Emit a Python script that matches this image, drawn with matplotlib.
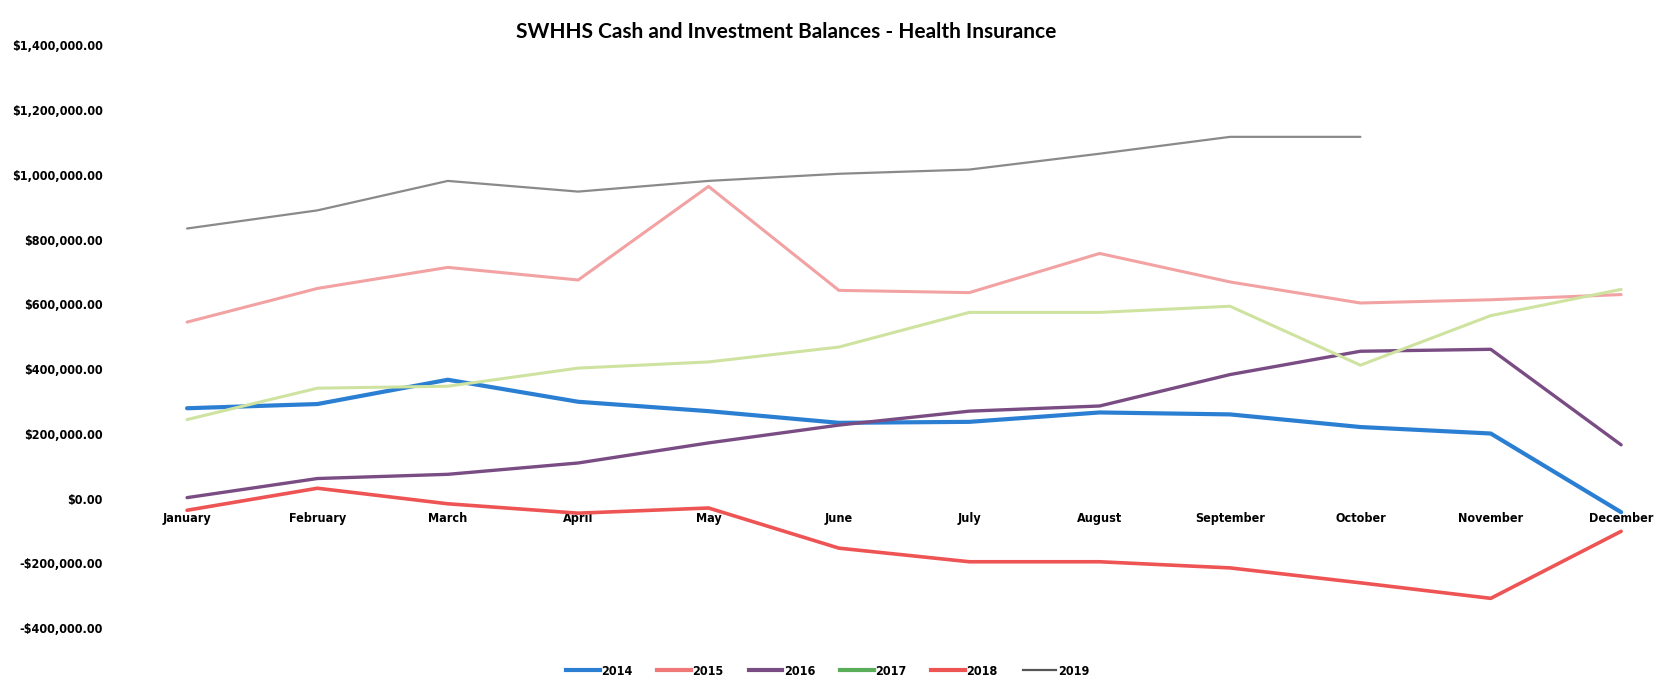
import matplotlib
matplotlib.use("Agg")
import matplotlib.pyplot as plt
from matplotlib.lines import Line2D
from matplotlib.ticker import FuncFormatter
from matplotlib import font_manager

months = ["January", "February", "March", "April", "May", "June", "July",
          "August", "September", "October", "November", "December"]

y2014 = [279000, 292000, 367000, 299000, 270000, 234000, 237000, 266000, 260000, 221000, 201000, -42000]
y2015 = [545000, 649000, 714000, 675000, 964000, 643000, 636000, 757000, 669000, 604000, 614000, 630000]
y2016 = [3000, 62000, 75000, 110000, 172000, 227000, 270000, 286000, 383000, 455000, 461000, 166000]
y2017 = [244000, 341000, 347000, 403000, 422000, 468000, 575000, 575000, 594000, 412000, 565000, 646000]
y2018 = [-36000, 32000, -16000, -45000, -29000, -153000, -195000, -195000, -214000, -260000, -308000, -101000]
y2019 = [834000, 890000, 981000, 948000, 981000, 1003000, 1016000, 1065000, 1117000, 1117000]

series_names = ["2014", "2015", "2016", "2017", "2018", "2019"]

installed = {f.name for f in font_manager.fontManager.ttflist}
narrow = 'Liberation Sans Narrow' if 'Liberation Sans Narrow' in installed else 'DejaVu Sans'
plt.rcParams['font.family'] = [narrow, 'DejaVu Sans']
tick_fp = font_manager.FontProperties(family=[narrow, 'DejaVu Sans'], weight='bold',
                                      stretch='condensed', size=9)

fig = plt.figure(figsize=(16.65, 6.85), dpi=100)
ax = fig.add_axes([0.110, 0.083, 0.866, 0.851])

x = list(range(len(months)))
line_specs = [
    (y2014, "#2B7FD3", 3.0),
    (y2015, "#F2A2A2", 2.2),
    (y2016, "#7A4C84", 2.4),
    (y2017, "#CFE3A0", 2.2),
    (y2018, "#EE5454", 2.6),
    (y2019, "#8A8A8A", 1.6),
]
for vals, col, lw in line_specs:
    ax.plot(x[:len(vals)], vals, color=col, lw=lw, solid_capstyle='round')

ax.set_xlim(-0.03, 11.03)
ax.set_ylim(-400000, 1400000)
ax.set_yticks(range(-400000, 1400001, 200000))

def fmt(v, pos):
    if v < 0:
        return "-${:,.2f}".format(-v)
    return "${:,.2f}".format(v)
ax.yaxis.set_major_formatter(FuncFormatter(fmt))

ax.spines['bottom'].set_position(('data', 0))
for s in ax.spines.values():
    s.set_visible(False)
ax.set_xticks(x)
ax.set_xticklabels(months)
ax.tick_params(axis='x', length=0, pad=10)
ax.tick_params(axis='y', length=0, pad=58)
for t in ax.get_yticklabels() + ax.get_xticklabels():
    t.set_fontproperties(tick_fp)

fig.text(0.472, 0.953, "SWHHS Cash and Investment Balances - Health Insurance",
         ha='center', va='center', fontsize=15, fontweight='bold', family=['Lato', 'DejaVu Sans'])

legend_colors = ["#2B7FD3", "#F07878", "#7A4C84", "#5AAE5A", "#EE5454", "#555555"]
handles = [Line2D([0], [0], color=c, lw=3 if i < 5 else 1.6) for i, c in enumerate(legend_colors)]
leg = fig.legend(handles, series_names, loc='center', bbox_to_anchor=(0.497, 0.02), ncol=6,
                 frameon=False, handlelength=2.7, handletextpad=0.1, columnspacing=2.0,
                 prop=font_manager.FontProperties(family=[narrow, 'DejaVu Sans'], weight='bold',
                                                  stretch='condensed', size=9))

fig.savefig("out.png", dpi=100, facecolor='white')
